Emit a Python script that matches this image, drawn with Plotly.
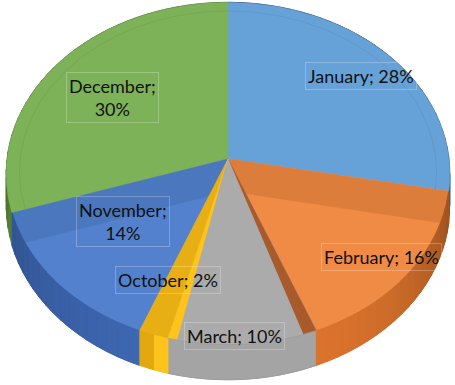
import math
import plotly.graph_objects as go

# ---- data ----
months = ["January", "February", "March", "October", "November", "December"]
shares = [28, 16, 10, 2, 14, 30]  # percent

# ---- colours (top face, side wall base) ----
top_colors = ["#66A1D7", "#F08B46", "#ABABAB", "#E8AF14", "#5481CD", "#7DB258"]
wall_colors = ["#5B9BD5", "#ED7D31", "#A5A5A5", "#FFC000", "#4472C4", "#70AD47"]
band_colors = {"February": "#DD7D3C", "November": "#4A77BE"}

# ---- projection parameters (3-D tilted pie) ----
CX, CY = 228.0, 159.0
RX, RY = 221.0, 170.0
PERSP = 0.085
DEPTH = 32.0


def P(phi_deg, r=1.0, z=0.0):
    a = math.radians(phi_deg)
    u = r * math.sin(a)
    v = r * math.cos(a)
    f = 1.0 / (1.0 + PERSP * v)
    return CX + RX * u * f, CY - RY * v * f + DEPTH * z * f


def arc(a0, a1, z=0.0, step=0.5):
    n = max(2, int(abs(a1 - a0) / step) + 1)
    return [P(a0 + (a1 - a0) * i / (n - 1), 1.0, z) for i in range(n)]


def hex2rgb(h):
    h = h.lstrip("#")
    return tuple(int(h[i:i + 2], 16) for i in (0, 2, 4))


def shade(h, k):
    r, g, b = hex2rgb(h)
    return "rgb(%d,%d,%d)" % (min(255, r * k), min(255, g * k), min(255, b * k))


def wall_k(phi):
    d = phi - 172.0
    if d < 0:
        return 0.58 + 0.36 * math.cos(math.radians(d * 1.1))
    return 0.70 + 0.24 * math.cos(math.radians(d * 1.0))


traces = []


def poly(pts, color, lw=0.6, lc=None):
    xs = [p[0] for p in pts] + [pts[0][0]]
    ys = [p[1] for p in pts] + [pts[0][1]]
    traces.append(go.Scatter(x=xs, y=ys, mode="lines", fill="toself",
                             fillcolor=color, line=dict(color=lc or color, width=lw),
                             hoverinfo="skip", showlegend=False))


# slice angles
bounds = []
acc = 0.0
total = float(sum(shares))
for s in shares:
    a0 = acc / total * 360.0
    acc += s
    a1 = acc / total * 360.0
    bounds.append((a0, a1))
B = dict(zip(months, bounds))


def wall(name, seg=3.0):
    a0, a1 = B[name]
    base = wall_colors[months.index(name)]
    n = max(1, int(math.ceil((a1 - a0) / seg)))
    for i in range(n):
        s0 = a0 + (a1 - a0) * i / n
        s1 = a0 + (a1 - a0) * (i + 1) / n
        top = arc(s0, s1, 0.0, 0.25)
        bot = arc(s1, s0, 1.0, 0.25)
        k = wall_k((s0 + s1) / 2)
        poly(top + bot, shade(base, k), lw=0.8)


# 1. all walls (back ones are later covered by the top faces)
for m in months:
    wall(m)

# 2. top faces
for i, m in enumerate(months):
    a0, a1 = B[m]
    poly([P(0, 0)] + arc(a0, a1), top_colors[i])

# 3. visible radial walls
a_jf = B["February"][0]
poly([P(a_jf, 0, 0), P(a_jf, 1, 0), P(a_jf, 1, 1), P(a_jf, 0, 1)], band_colors["February"])
a_dn = B["December"][0]
poly([P(a_dn, 0, 0), P(a_dn, 1, 0), P(a_dn, 1, 1), P(a_dn, 0, 1)], band_colors["November"])

a_fm = B["March"][0]
poly([P(0, 0), P(a_fm, 1, 0), P(a_fm, 1, 1)], "#A95A2A")

a_mo = B["October"][0]
a_on = B["November"][0]
poly([P(0, 0)] + arc(a_mo, a_on), "#E8AF14")
poly([P(0, 0), P(a_mo, 1, 0), P(a_mo, 1, 1)], "#FFC41C")

# March face (reaching the lower edge)
poly([P(0, 0)] + arc(a_fm, a_mo, 1.0), "#ABABAB")
poly(arc(a_fm, a_mo, 0.0) + arc(a_mo, a_fm, 1.0), "#A4A4A4", lw=0.8, lc="#9C9C9C")

# 4. front walls redrawn on top
wall("February")
wall("November")
a0, a1 = B["October"]
poly(arc(a0, (a0 + a1) / 2, 0.0) + arc((a0 + a1) / 2, a0, 1.0), "#FFC41C")
poly(arc((a0 + a1) / 2, a1, 0.0) + arc(a1, (a0 + a1) / 2, 1.0), "#E2A80E")

# faint bevel rings on the back slices
for m in ["January", "December"]:
    a0, a1 = B[m]
    pts = [P(a0 + (a1 - a0) * i / 80, 0.94, 0) for i in range(81)]
    traces.append(go.Scatter(x=[p[0] for p in pts], y=[p[1] for p in pts], mode="lines",
                             line=dict(color="rgba(0,0,0,0.06)", width=1),
                             hoverinfo="skip", showlegend=False))

fig = go.Figure(traces)

# ---- labels ----
label_text = [
    "January; 28%",
    "February; 16%",
    "March; 10%",
    "October; 2%",
    "November;<br>14%",
    "December;<br>30%",
]
label_pos = [(361, 76), (381, 257), (234, 336), (168, 280), (123, 221), (112, 97)]
for t, (x, y) in zip(label_text, label_pos):
    fig.add_annotation(x=x, y=y, text=t, showarrow=False, xref="x", yref="y",
                       font=dict(family="Lato, Open Sans, sans-serif", size=18, color="#111111"),
                       bordercolor="rgba(255,255,255,0.25)", borderwidth=1, borderpad=2,
                       align="center")

fig.update_layout(
    width=455, height=385,
    margin=dict(l=0, r=0, t=0, b=0),
    paper_bgcolor="white", plot_bgcolor="white",
    xaxis=dict(range=[0, 455], visible=False, fixedrange=True),
    yaxis=dict(range=[385, 0], visible=False, fixedrange=True),
    showlegend=False,
)
fig.write_html("out.html", config={"displayModeBar": False},
               post_script="document.body.style.margin='0';document.body.style.overflow='hidden';")
